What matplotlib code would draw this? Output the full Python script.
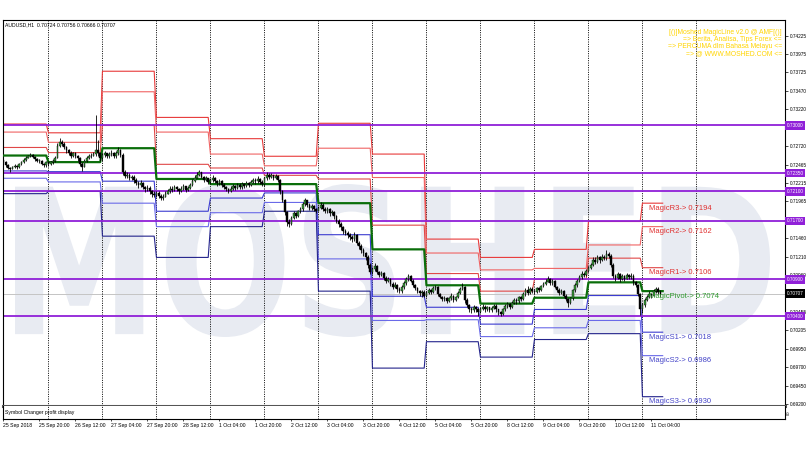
import numpy as np
import matplotlib.pyplot as plt
from matplotlib.textpath import TextPath
from matplotlib.patches import PathPatch
from matplotlib.font_manager import FontProperties
from matplotlib.transforms import Affine2D, blended_transform_factory

plt.rcParams['font.family'] = ['Liberation Sans', 'DejaVu Sans']

# ---- hourly AUDUSD candles, in pips (price * 10000), bar 0 = 25 Sep 04:00 ----
first_open = 7253
closes = [
    # 25 Sep
    7250, 7246, 7242, 7241, 7243, 7245, 7243, 7247, 7250, 7253, 7256, 7258, 7260, 7257, 7254, 7252, 7252, 7248, 7246, 7250,
    # 26 Sep
    7248, 7250, 7251, 7256, 7272, 7278, 7275, 7270, 7266, 7263, 7259, 7262, 7258, 7255, 7248, 7244, 7252, 7256, 7258, 7259, 7261, 7266, 7262, 7255,
    # 27 Sep
    7260, 7262, 7258, 7261, 7263, 7258, 7262, 7266, 7260, 7236, 7231, 7233, 7228, 7230, 7226, 7222, 7219, 7221, 7216, 7213, 7215, 7210, 7207, 7205,
    # 28 Sep
    7208, 7204, 7201, 7203, 7207, 7210, 7214, 7212, 7216, 7213, 7210, 7214, 7217, 7212, 7215, 7219, 7224, 7229, 7233, 7236, 7230, 7226, 7228, 7223,
    # 1 Oct
    7225, 7228, 7224, 7221, 7224, 7219, 7216, 7213, 7210, 7214, 7217, 7215, 7219, 7216, 7220, 7218, 7221, 7219, 7223, 7226, 7224, 7227, 7223, 7220,
    # 2 Oct
    7228, 7233, 7230, 7232, 7229, 7231, 7226, 7210, 7199, 7182, 7168, 7166, 7174, 7180, 7177, 7183, 7186, 7193, 7198, 7192, 7188, 7190, 7186, 7184,
    # 3 Oct
    7188, 7192, 7186, 7183, 7186, 7180, 7182, 7176, 7170, 7166, 7161, 7156, 7153, 7150, 7148, 7145, 7150, 7140, 7135, 7130, 7126, 7120, 7110, 7100,
    # 4 Oct
    7104, 7108, 7100, 7096, 7099, 7092, 7088, 7090, 7084, 7080, 7083, 7077, 7074, 7079, 7085, 7090, 7094, 7088, 7082, 7078, 7074, 7071, 7073, 7068,
    # 5 Oct
    7072, 7075, 7073, 7078, 7080, 7070, 7066, 7063, 7065, 7061, 7064, 7068, 7062, 7066, 7072, 7077, 7080, 7062, 7055, 7050, 7048, 7052, 7049, 7046,
    # 8 Oct
    7050, 7053, 7049, 7052, 7048, 7051, 7054, 7049, 7045, 7043, 7049, 7054, 7056, 7053, 7058, 7062, 7060, 7066, 7063, 7070, 7075, 7072, 7077, 7074,
    # 9 Oct
    7073, 7078, 7075, 7081, 7084, 7087, 7090, 7085, 7088, 7080, 7076, 7072, 7074, 7068, 7063, 7058, 7064, 7075, 7082, 7088, 7093, 7098, 7096, 7101,
    # 10 Oct
    7106, 7110, 7117, 7114, 7120, 7116, 7121, 7119, 7125, 7122, 7110, 7095, 7092, 7097, 7090, 7094, 7091, 7096, 7093, 7095, 7086, 7082, 7070, 7050,
    # 11 Oct
    7055, 7062, 7066, 7070, 7068, 7074, 7077, 7072.4, 7070.7,
]
highs = [
    7255, 7251, 7248, 7244, 7245, 7247, 7246, 7249, 7252, 7255, 7258, 7260, 7263, 7261, 7258, 7255, 7254, 7253, 7249, 7251,
    7251, 7252, 7254, 7258, 7276, 7283, 7280, 7277, 7272, 7268, 7265, 7264, 7264, 7260, 7257, 7250, 7254, 7258, 7261, 7262, 7264, 7314, 7280, 7264,
    7263, 7265, 7263, 7264, 7267, 7264, 7265, 7271, 7268, 7262, 7239, 7237, 7235, 7233, 7232, 7228, 7224, 7225, 7223, 7218, 7219, 7217, 7212, 7210,
    7211, 7210, 7206, 7206, 7210, 7213, 7217, 7217, 7219, 7218, 7215, 7217, 7220, 7218, 7218, 7222, 7227, 7232, 7236, 7239, 7237, 7231, 7231, 7229,
    7228, 7232, 7230, 7226, 7227, 7226, 7221, 7218, 7215, 7217, 7220, 7219, 7222, 7221, 7223, 7222, 7224, 7223, 7226, 7229, 7228, 7231, 7229, 7225,
    7230, 7237, 7235, 7235, 7233, 7234, 7232, 7227, 7212, 7200, 7184, 7172, 7177, 7183, 7182, 7185, 7189, 7196, 7201, 7199, 7194, 7193, 7191, 7188,
    7190, 7195, 7194, 7189, 7189, 7188, 7185, 7184, 7178, 7172, 7168, 7163, 7159, 7156, 7153, 7150, 7155, 7152, 7143, 7138, 7133, 7128, 7123, 7113,
    7107, 7112, 7110, 7102, 7102, 7100, 7094, 7093, 7092, 7086, 7086, 7084, 7079, 7082, 7088, 7093, 7097, 7096, 7090, 7084, 7080, 7076, 7076, 7075,
    7074, 7078, 7077, 7081, 7083, 7081, 7071, 7068, 7068, 7066, 7066, 7071, 7069, 7068, 7074, 7080, 7085, 7081, 7064, 7057, 7053, 7055, 7054, 7051,
    7052, 7056, 7055, 7054, 7053, 7054, 7057, 7056, 7050, 7047, 7051, 7057, 7059, 7058, 7060, 7065, 7064, 7068, 7068, 7073, 7078, 7081, 7080, 7079,
    7077, 7080, 7079, 7083, 7087, 7090, 7094, 7092, 7090, 7089, 7081, 7078, 7077, 7075, 7070, 7064, 7066, 7077, 7085, 7091, 7096, 7101, 7100, 7104,
    7108, 7113, 7120, 7120, 7123, 7122, 7124, 7123, 7130, 7128, 7124, 7112, 7098, 7100, 7099, 7097, 7096, 7099, 7098, 7099, 7097, 7088, 7084, 7072,
    7058, 7065, 7069, 7074, 7072, 7077, 7080, 7079, 7075.6,
]
lows = [
    7248, 7244, 7240, 7237, 7240, 7242, 7241, 7242, 7246, 7249, 7252, 7255, 7257, 7255, 7252, 7250, 7249, 7246, 7243, 7244,
    7245, 7246, 7248, 7250, 7255, 7270, 7272, 7268, 7263, 7260, 7256, 7257, 7255, 7252, 7245, 7238, 7243, 7250, 7254, 7256, 7258, 7259, 7258, 7252,
    7251, 7257, 7255, 7256, 7259, 7255, 7256, 7260, 7257, 7233, 7228, 7228, 7225, 7226, 7222, 7219, 7215, 7216, 7213, 7209, 7210, 7206, 7203, 7203,
    7203, 7201, 7198, 7199, 7202, 7206, 7208, 7209, 7211, 7210, 7207, 7209, 7212, 7209, 7210, 7213, 7218, 7223, 7228, 7231, 7228, 7223, 7224, 7220,
    7220, 7223, 7222, 7218, 7219, 7216, 7213, 7210, 7208, 7209, 7212, 7212, 7213, 7213, 7214, 7215, 7216, 7216, 7217, 7221, 7220, 7222, 7220, 7217,
    7218, 7226, 7227, 7228, 7226, 7227, 7223, 7207, 7196, 7178, 7163, 7161, 7164, 7172, 7174, 7175, 7181, 7184, 7190, 7189, 7185, 7185, 7183, 7180,
    7183, 7186, 7184, 7180, 7181, 7177, 7178, 7172, 7167, 7162, 7158, 7152, 7150, 7146, 7144, 7141, 7143, 7137, 7131, 7126, 7122, 7116, 7106, 7098,
    7098, 7101, 7098, 7093, 7094, 7089, 7085, 7086, 7081, 7077, 7078, 7073, 7071, 7072, 7077, 7083, 7088, 7086, 7079, 7075, 7071, 7068, 7066, 7066,
    7066, 7070, 7070, 7072, 7076, 7068, 7064, 7060, 7061, 7058, 7059, 7062, 7059, 7060, 7064, 7070, 7075, 7058, 7052, 7046, 7044, 7045, 7045, 7040,
    7044, 7048, 7046, 7047, 7045, 7046, 7049, 7046, 7042, 7040, 7041, 7047, 7051, 7050, 7051, 7056, 7057, 7058, 7060, 7062, 7068, 7069, 7070, 7071,
    7070, 7072, 7073, 7074, 7080, 7083, 7086, 7083, 7083, 7078, 7073, 7069, 7070, 7066, 7060, 7053, 7056, 7062, 7073, 7080, 7086, 7091, 7093, 7094,
    7100, 7104, 7108, 7111, 7112, 7113, 7115, 7116, 7117, 7119, 7107, 7092, 7088, 7090, 7087, 7089, 7088, 7090, 7090, 7091, 7083, 7079, 7067, 7042,
    7044, 7053, 7060, 7064, 7065, 7067, 7072, 7070, 7066.6,
]

# ---- daily "Magic" pivot levels (25 Sep ... 11 Oct) ----
day_start = [0, 20, 44, 68, 92, 116, 140, 164, 188, 212, 236, 260, 284]
last_bar = 293
r3 = [0.7302, 0.7290, 0.7374, 0.7311, 0.7282, 0.7258, 0.7303, 0.7261, 0.7145, 0.7120, 0.7131, 0.7169, 0.7194]
r2 = [0.7291, 0.7277, 0.7346, 0.7291, 0.7261, 0.7245, 0.7269, 0.7229, 0.7126, 0.7103, 0.7105, 0.7137, 0.7162]
r1 = [0.7270, 0.7263, 0.7300, 0.7247, 0.7242, 0.7232, 0.7227, 0.7164, 0.7098, 0.7074, 0.7090, 0.7119, 0.7106]
pv = [0.7259, 0.7250, 0.7269, 0.7227, 0.7220, 0.7220, 0.7194, 0.7131, 0.7082, 0.7057, 0.7065, 0.7086, 0.7074]
s1 = [0.7238, 0.7237, 0.7224, 0.7183, 0.7201, 0.7208, 0.7151, 0.7067, 0.7052, 0.7029, 0.7049, 0.7068, 0.7018]
s2 = [0.7228, 0.7223, 0.7194, 0.7162, 0.7181, 0.7195, 0.7118, 0.7034, 0.7035, 0.7012, 0.7024, 0.7034, 0.6986]
s3 = [0.7207, 0.7210, 0.7149, 0.7120, 0.7162, 0.7183, 0.7074, 0.6969, 0.7005, 0.6984, 0.7008, 0.7016, 0.6930]
level_names = ["MagicR3", "MagicR2", "MagicR1", "MagicPivot", "MagicS1", "MagicS2", "MagicS3"]

purple_levels = [0.7300, 0.7235, 0.7210, 0.7170, 0.7090, 0.7040]
bid = 0.70707
separators = [20, 44, 68, 92, 116, 140, 164, 188, 212, 236, 260, 284, 308]

ytick_vals = [0.74225, 0.73975, 0.73725, 0.73470, 0.73220, 0.72720, 0.72465, 0.72215,
              0.71965, 0.71460, 0.71210, 0.70960, 0.70455, 0.70205, 0.69950, 0.69700,
              0.69450, 0.69200]
xtick_bars = [0, 16, 32, 48, 64, 80, 96, 112, 128, 144, 160, 176, 192, 208, 224, 240, 256, 272, 288]
xtick_labels = ["25 Sep 2018", "25 Sep 20:00", "26 Sep 12:00", "27 Sep 04:00", "27 Sep 20:00",
                "28 Sep 12:00", "1 Oct 04:00", "1 Oct 20:00", "2 Oct 12:00", "3 Oct 04:00",
                "3 Oct 20:00", "4 Oct 12:00", "5 Oct 04:00", "5 Oct 20:00", "8 Oct 12:00",
                "9 Oct 04:00", "9 Oct 20:00", "10 Oct 12:00", "11 Oct 04:00"]
banner = ["[()]Moshed MagicLine v2.0 @ AMF[()]",
          "=> Berita, Analisa, Tips Forex <=",
          "=> PERCUMA dlm Bahasa Melayu <=",
          "=> @ WWW.MOSHED.COM <="]

PURPLE = "#9020D8"
RED_COLS = ["#E83A3A", "#F06464", "#E04848"]
BLUE_COLS = ["#3C3CD0", "#6A6AE8", "#24248C"]
GREEN = "#0A6E0A"

W, H = 810, 450


def box(x0, y0, x1, y1):
    return [x0 / W, 1 - y1 / H, (x1 - x0) / W, (y1 - y0) / H]


def ay(ypx):
    return 1 - (ypx - 20) / 386


fig = plt.figure(figsize=(W / 100, H / 100), dpi=100, facecolor="white")
ax = fig.add_axes(box(3, 20, 785, 406))
sub = fig.add_axes(box(3, 406, 785, 419), sharex=ax)

# watermark
fp = FontProperties(family="DejaVu Sans", weight="bold")
tp = TextPath((0, 0), "MOSHED", size=1, prop=fp)
bb = tp.get_extents()
fx0, fx1 = 15 / W, 770 / W
fy0, fy1 = 1 - 337 / H, 1 - 184 / H
tr = (Affine2D().translate(-bb.x0, -bb.y0)
      .scale((fx1 - fx0) / bb.width, (fy1 - fy0) / bb.height)
      .translate(fx0, fy0) + fig.transFigure)
ax.add_patch(PathPatch(tp, transform=tr, fc="#E8EBF2", ec="none", zorder=0.5))

# candles
c = np.array(closes) / 1e4
o = np.array([first_open] + closes[:-1]) / 1e4
hi = np.array(highs) / 1e4
lo = np.array(lows) / 1e4
x = np.arange(len(c))
up = c >= o
ax.vlines(x, lo, hi, color="black", lw=0.6, zorder=4)
bot = np.minimum(o, c)
hgt = np.maximum(np.abs(c - o), 0.00003)
ax.bar(x[up], hgt[up], bottom=bot[up], width=0.75, color="#3A9A3A",
       edgecolor="black", linewidth=0.3, zorder=5)
ax.bar(x[~up], hgt[~up], bottom=bot[~up], width=0.75, color="black",
       edgecolor="black", linewidth=0.3, zorder=5)

# pivot level lines
counts = np.diff(day_start + [last_bar + 1])
xl = np.arange(last_bar + 1)
series = [r3, r2, r1, pv, s1, s2, s3]
cols = RED_COLS + [GREEN] + BLUE_COLS
for lv, col in zip(series, cols):
    lw = 1.6 if col == GREEN else 0.8
    ax.plot(xl, np.repeat(lv, counts), color=col, lw=lw, zorder=3 if col == GREEN else 2)

label_cols = ["#E03030", "#E03030", "#E03030", "#2E9A2E", "#4545C8", "#4545C8", "#4545C8"]
for name, lv, col in zip(level_names, series, label_cols):
    ax.annotate(f"{name}-> {lv[-1]:.4f}", (286.9, lv[-1]), xytext=(0, -3.6),
                textcoords="offset points", color=col, fontsize=5.5,
                va="center", ha="left", zorder=6)

# horizontal lines
ax.axhline(bid, color="#C4C4C4", lw=0.7, zorder=1)
for lv in purple_levels:
    ax.axhline(lv, color=PURPLE, lw=1.3, zorder=2.5)

# day separators
for b in separators:
    for a in (ax, sub):
        a.axvline(b, color="black", lw=0.7, ls=(0, (1, 1.4)), zorder=1.5)

ax.set_xlim(-0.2, -0.2 + 782 / 2.25)
ax.set_ylim(0.69173, 0.74439)

# right price scale
ax.yaxis.tick_right()
ax.set_yticks(ytick_vals)
ax.set_yticklabels([f"{v:.5f}" for v in ytick_vals])
ax.tick_params(axis="y", labelsize=3.4, length=2, width=0.5, pad=1.5)
ax.tick_params(axis="x", bottom=False, labelbottom=False)

bt = blended_transform_factory(ax.transAxes, ax.transData)
for lv in purple_levels:
    ax.text(1.002, lv, f"{lv:.5f}", transform=bt, color="white", fontsize=3.4,
            va="center", ha="left", clip_on=False, zorder=10,
            bbox=dict(boxstyle="square,pad=0.35", fc=PURPLE, ec="none"))
ax.text(1.002, bid, f"{bid:.5f}", transform=bt, color="white", fontsize=3.4,
        va="center", ha="left", clip_on=False, zorder=10,
        bbox=dict(boxstyle="square,pad=0.35", fc="black", ec="none"))

for sp in ("left", "top", "right"):
    ax.spines[sp].set_color("black")
    ax.spines[sp].set_linewidth(0.8)
ax.spines["bottom"].set_color("#555555")
ax.spines["bottom"].set_linewidth(2.2)

ax.text(0.003, ay(22), "AUDUSD,H1  0.70724 0.70756 0.70666 0.70707",
        transform=ax.transAxes, fontsize=3.7, va="top", ha="left", zorder=10)
for i, line in enumerate(banner):
    ax.text(0.9962, ay(32 + i * 7.2), line, transform=ax.transAxes, color="#FFD400",
            fontsize=4.9, va="center", ha="right", zorder=10)

# sub window
sub.set_yticks([])
sub.spines["top"].set_visible(False)
for sp in ("left", "right", "bottom"):
    sub.spines[sp].set_color("black")
    sub.spines[sp].set_linewidth(0.8)
sub.text(0.003, 0.5, "Symbol Changer profit display", transform=sub.transAxes,
         fontsize=3.7, va="center", ha="left")
sub.text(1.003, 0.5, "00", transform=sub.transAxes, fontsize=3.0, rotation=90,
         va="center", ha="left")
sub.set_xticks(xtick_bars)
sub.set_xticklabels(xtick_labels, ha="left")
sub.tick_params(axis="x", labelsize=3.7, length=1.5, width=0.5, pad=1.5)

fig.savefig("out.png", dpi=100, facecolor="white")
